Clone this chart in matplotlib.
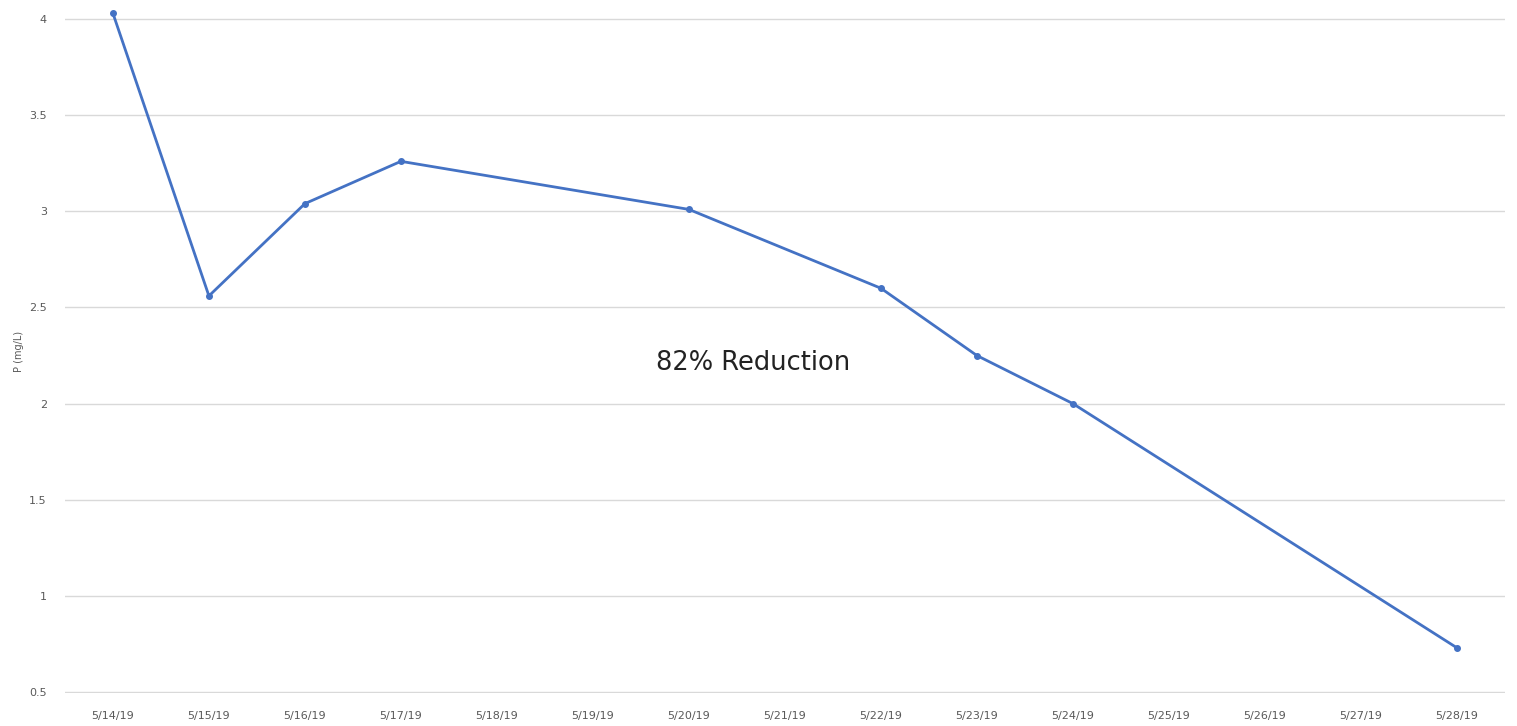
import matplotlib
matplotlib.use("Agg")
import matplotlib.pyplot as plt
import matplotlib.dates as mdates
import pandas as pd

# Phosphorus readings, May 2019
SAMPLE_DATES = ["2019-05-14", "2019-05-15", "2019-05-16", "2019-05-17",
                "2019-05-20", "2019-05-22", "2019-05-23", "2019-05-24",
                "2019-05-28"]
P_VALUES = [4.03, 2.56, 3.04, 3.26, 3.01, 2.60, 2.25, 2.00, 0.73]

Y_TICKS = [0.5, 1, 1.5, 2, 2.5, 3, 3.5, 4]
Y_TICK_LABELS = ["0.5", "1", "1.5", "2", "2.5", "3", "3.5", "4"]

dates = pd.to_datetime(SAMPLE_DATES)
all_days = pd.date_range("2019-05-14", "2019-05-28", freq="D")

fig = plt.figure(figsize=(15.17, 7.26), dpi=100)
ax = fig.add_axes([0.0428, 0.0455, 0.9492, 0.9415])

ax.plot(dates, P_VALUES, color="#4472C4", linewidth=2.0,
        marker="o", markersize=4, zorder=3)

# category-style spacing: half a day of padding each side
ax.set_xlim(all_days[0] - pd.Timedelta(hours=12),
            all_days[-1] + pd.Timedelta(hours=12))
ax.set_ylim(0.495, 4.05)

ax.set_xticks(all_days)
ax.xaxis.set_major_formatter(
    plt.FuncFormatter(lambda v, pos: "{d.month}/{d.day}/{y}".format(
        d=mdates.num2date(v), y=mdates.num2date(v).strftime("%y"))))
ax.set_yticks(Y_TICKS)
ax.set_yticklabels(Y_TICK_LABELS)

ax.tick_params(axis="both", length=0, labelsize=8, labelcolor="#595959")
ax.tick_params(axis="x", pad=13)
ax.tick_params(axis="y", pad=13)

ax.grid(axis="y", color="#D9D9D9", linewidth=1.0)
ax.set_axisbelow(True)
for side in ["top", "right", "left", "bottom"]:
    ax.spines[side].set_visible(False)

ax.set_ylabel("P (mg/L)", fontsize=7, color="#595959", labelpad=4)

ax.text(pd.Timestamp("2019-05-20 16:00"), 2.21, "82% Reduction",
        fontsize=18.5, color="#222222", ha="center", va="center")

fig.savefig("out.png", dpi=100, facecolor="white")
